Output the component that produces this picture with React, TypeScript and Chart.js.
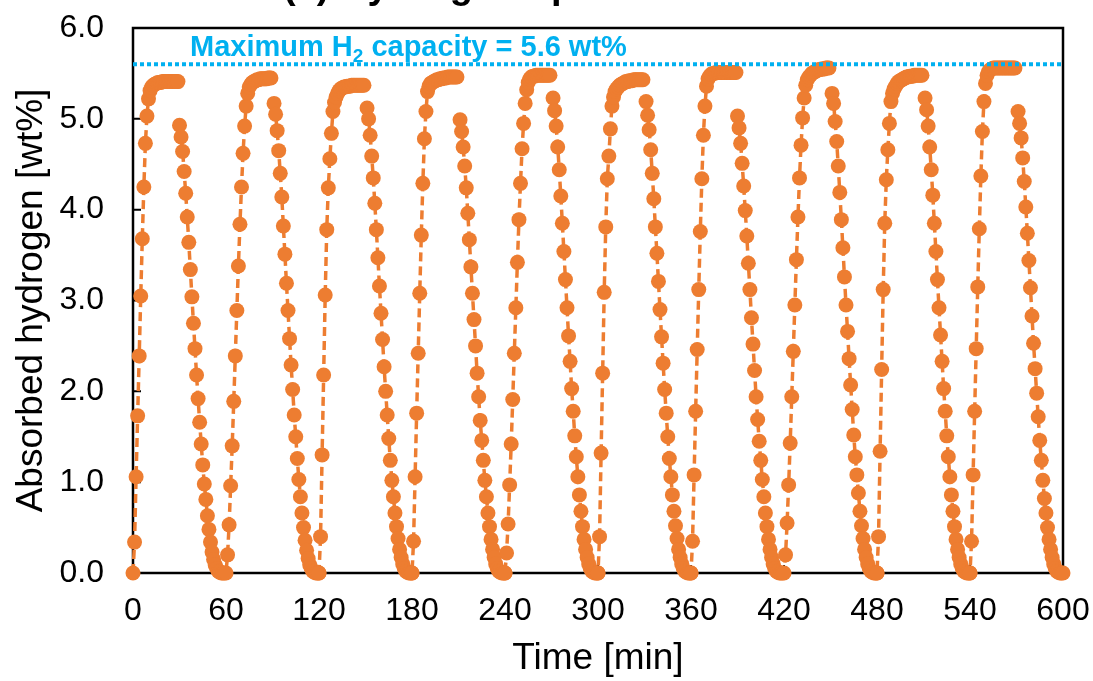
import React, { useEffect, useRef } from "react";
import { Chart, registerables } from "chart.js";

Chart.register(...registerables);

const ORANGE = "#ED7D31";
const CYAN = "#00B0F0";
const FONT = "'Liberation Sans', Arial, Helvetica, sans-serif";

// Sampling interval of the logged data (minutes)
const SAMPLE_STEP_MIN = 1;

// Axis ticks
const X_TICKS = [0, 60, 120, 180, 240, 300, 360, 420, 480, 540, 600];
const Y_TICKS = [0, 1, 2, 3, 4, 5, 6];

// Theoretical maximum hydrogen capacity (wt%)
const MAX_CAPACITY = 5.6;

// Start time (min) of the uptake and release step of each cycle
const uptakeStart = [0, 60, 120, 180, 240, 300, 360, 420, 480, 540];
const releaseStart = [30, 91, 151, 211, 271, 331, 390, 451, 511, 571];

// Absorbed hydrogen (wt%) during the uptake step of each cycle
const uptake1 = [0, 0.34, 1.06, 1.73, 2.39, 3.05, 3.68, 4.25, 4.73, 5.03, 5.22, 5.31, 5.35, 5.37, 5.38, 5.39, 5.4, 5.4, 5.4, 5.41, 5.41, 5.41, 5.41, 5.41, 5.41, 5.41, 5.41, 5.41, 5.41, 5.41];
const uptake2 = [0, 0.2, 0.53, 0.96, 1.4, 1.89, 2.39, 2.89, 3.38, 3.84, 4.25, 4.62, 4.92, 5.14, 5.28, 5.35, 5.38, 5.4, 5.41, 5.42, 5.43, 5.43, 5.44, 5.44, 5.44, 5.44, 5.44, 5.45, 5.45, 5.45];
const uptake3 = [0, 0.4, 1.3, 2.18, 3.06, 3.78, 4.24, 4.56, 4.84, 5.08, 5.18, 5.24, 5.28, 5.31, 5.33, 5.34, 5.35, 5.35, 5.36, 5.36, 5.36, 5.37, 5.37, 5.37, 5.37, 5.37, 5.37, 5.37, 5.37, 5.37];
const uptake4 = [0, 0.35, 1.06, 1.76, 2.42, 3.08, 3.72, 4.29, 4.78, 5.08, 5.3, 5.36, 5.39, 5.4, 5.41, 5.42, 5.43, 5.43, 5.44, 5.44, 5.45, 5.45, 5.45, 5.46, 5.46, 5.46, 5.46, 5.46, 5.46, 5.46];
const uptake5 = [0, 0.22, 0.54, 0.97, 1.42, 1.91, 2.42, 2.92, 3.42, 3.89, 4.29, 4.67, 4.95, 5.17, 5.32, 5.4, 5.44, 5.46, 5.47, 5.47, 5.48, 5.48, 5.48, 5.48, 5.48, 5.48, 5.48, 5.48, 5.48, 5.48];
const uptake6 = [0, 0.4, 1.32, 2.2, 3.09, 3.81, 4.34, 4.59, 4.89, 5.14, 5.24, 5.3, 5.33, 5.35, 5.37, 5.38, 5.39, 5.4, 5.41, 5.41, 5.42, 5.42, 5.42, 5.43, 5.43, 5.43, 5.43, 5.43, 5.43, 5.43];
const uptake7 = [0, 0.35, 1.08, 1.78, 2.46, 3.12, 3.76, 4.34, 4.82, 5.14, 5.36, 5.44, 5.47, 5.49, 5.5, 5.5, 5.51, 5.51, 5.51, 5.51, 5.51, 5.51, 5.51, 5.51, 5.51, 5.51, 5.51, 5.51, 5.51, 5.51];
const uptake8 = [0, 0.2, 0.55, 0.97, 1.43, 1.94, 2.44, 2.95, 3.45, 3.92, 4.35, 4.71, 5.01, 5.23, 5.37, 5.43, 5.46, 5.48, 5.5, 5.51, 5.52, 5.53, 5.54, 5.54, 5.55, 5.55, 5.55, 5.56, 5.56, 5.56];
const uptake9 = [0, 0.4, 1.34, 2.24, 3.12, 3.85, 4.33, 4.66, 4.95, 5.19, 5.28, 5.33, 5.36, 5.39, 5.41, 5.42, 5.43, 5.44, 5.45, 5.46, 5.46, 5.47, 5.47, 5.47, 5.48, 5.48, 5.48, 5.48, 5.48, 5.48];
const uptake10 = [0, 0.35, 1.08, 1.78, 2.47, 3.15, 3.79, 4.37, 4.86, 5.19, 5.39, 5.48, 5.52, 5.54, 5.55, 5.56, 5.56, 5.56, 5.56, 5.56, 5.56, 5.56, 5.56, 5.56, 5.56, 5.56, 5.56, 5.56, 5.56, 5.56];

// Hydrogen remaining (wt%) during the release step of each cycle
const release1 = [4.93, 4.8, 4.64, 4.42, 4.18, 3.92, 3.64, 3.34, 3.04, 2.75, 2.47, 2.18, 1.92, 1.66, 1.42, 1.19, 0.98, 0.81, 0.63, 0.48, 0.34, 0.23, 0.15, 0.09, 0.05, 0.02, 0.01, 0, 0, 0];
const release2 = [5.17, 5.05, 4.87, 4.65, 4.4, 4.14, 3.82, 3.51, 3.19, 2.89, 2.58, 2.29, 2.02, 1.74, 1.5, 1.26, 1.03, 0.84, 0.66, 0.5, 0.36, 0.25, 0.16, 0.09, 0.05, 0.02, 0.01, 0, 0, 0];
const release3 = [5.12, 5.0, 4.82, 4.59, 4.35, 4.07, 3.78, 3.47, 3.16, 2.86, 2.57, 2.27, 2.0, 1.74, 1.48, 1.24, 1.02, 0.84, 0.66, 0.51, 0.38, 0.26, 0.17, 0.1, 0.05, 0.02, 0.01, 0, 0, 0];
const release4 = [4.99, 4.86, 4.69, 4.48, 4.24, 3.96, 3.67, 3.37, 3.08, 2.79, 2.5, 2.2, 1.94, 1.68, 1.46, 1.24, 1.02, 0.84, 0.66, 0.51, 0.37, 0.26, 0.17, 0.1, 0.05, 0.02, 0.01, 0, 0, 0];
const release5 = [5.23, 5.09, 4.92, 4.69, 4.44, 4.15, 3.85, 3.54, 3.23, 2.92, 2.61, 2.33, 2.03, 1.78, 1.51, 1.28, 1.06, 0.86, 0.68, 0.51, 0.37, 0.26, 0.17, 0.1, 0.05, 0.02, 0.01, 0, 0, 0];
const release6 = [5.19, 5.04, 4.88, 4.66, 4.4, 4.12, 3.81, 3.52, 3.21, 2.9, 2.6, 2.31, 2.02, 1.76, 1.5, 1.26, 1.06, 0.86, 0.68, 0.52, 0.38, 0.26, 0.17, 0.1, 0.05, 0.02, 0.01, 0, 0, 0];
const release7 = [5.03, 4.9, 4.73, 4.51, 4.26, 3.99, 3.71, 3.41, 3.12, 2.81, 2.52, 2.23, 1.94, 1.69, 1.45, 1.24, 1.03, 0.84, 0.66, 0.51, 0.37, 0.26, 0.17, 0.1, 0.05, 0.02, 0.01, 0, 0, 0];
const release8 = [5.28, 5.17, 4.97, 4.75, 4.48, 4.19, 3.89, 3.58, 3.26, 2.95, 2.66, 2.36, 2.07, 1.8, 1.52, 1.28, 1.08, 0.88, 0.68, 0.52, 0.38, 0.26, 0.17, 0.1, 0.05, 0.02, 0.01, 0, 0, 0];
const release9 = [5.23, 5.1, 4.92, 4.69, 4.44, 4.16, 3.85, 3.54, 3.23, 2.92, 2.62, 2.33, 2.03, 1.78, 1.51, 1.28, 1.06, 0.86, 0.68, 0.51, 0.37, 0.26, 0.17, 0.1, 0.05, 0.02, 0.01, 0, 0, 0];
const release10 = [5.08, 4.95, 4.79, 4.57, 4.31, 4.03, 3.74, 3.44, 3.14, 2.83, 2.53, 2.25, 1.98, 1.72, 1.46, 1.24, 1.02, 0.82, 0.66, 0.5, 0.37, 0.26, 0.17, 0.1, 0.05, 0.02, 0.01, 0, 0, 0];

const uptakeRuns = [uptake1, uptake2, uptake3, uptake4, uptake5, uptake6, uptake7, uptake8, uptake9, uptake10];
const releaseRuns = [release1, release2, release3, release4, release5, release6, release7, release8, release9, release10];

type Pt = { x: number; y: number | null };

// One continuous series; a null point separates uptake from release so the
// dashed line breaks between the plateau and the start of release.
function buildSeries(): Pt[] {
  const pts: Pt[] = [];
  uptakeRuns.forEach((run, c) => {
    run.forEach((v, i) => pts.push({ x: uptakeStart[c] + i * SAMPLE_STEP_MIN, y: v }));
    pts.push({ x: uptakeStart[c] + run.length * SAMPLE_STEP_MIN, y: null });
    releaseRuns[c].forEach((v, i) => pts.push({ x: releaseStart[c] + i * SAMPLE_STEP_MIN, y: v }));
  });
  return pts;
}

// Frame, inward tick marks, heading and capacity caption
const decorations = {
  id: "decorations",
  beforeDatasetsDraw(chart: any) {
    const { ctx, chartArea, scales } = chart;
    const { left, right, top, bottom } = chartArea;
    ctx.save();
    ctx.strokeStyle = "#000";
    ctx.lineWidth = 2.5;
    ctx.strokeRect(left, top, right - left, bottom - top);
    ctx.lineWidth = 2;
    ctx.beginPath();
    Y_TICKS.forEach((v) => {
      const py = scales.y.getPixelForValue(v);
      ctx.moveTo(left, py);
      ctx.lineTo(left + 8, py);
    });
    X_TICKS.forEach((v) => {
      const px = scales.x.getPixelForValue(v);
      ctx.moveTo(px, bottom);
      ctx.lineTo(px, bottom - 8);
    });
    ctx.stroke();
    ctx.restore();
  },
  afterDraw(chart: any) {
    const { ctx, chartArea, scales } = chart;
    ctx.save();
    // Heading, mostly above the top edge of the canvas
    ctx.fillStyle = "#000";
    ctx.textAlign = "left";
    ctx.textBaseline = "alphabetic";
    ctx.font = `bold 38px ${FONT}`;
    ctx.fillText("(a) Hydrogen uptake", 283, -2);

    // Caption above the capacity line, with subscript "2"
    const lineY = scales.y.getPixelForValue(MAX_CAPACITY);
    const base = lineY - 8;
    let x = chartArea.left + 57;
    ctx.fillStyle = CYAN;
    const mainFont = `bold 29px ${FONT}`;
    const subFont = `bold 19px ${FONT}`;
    const a = "Maximum H";
    const b = "2";
    const c = ` capacity = ${MAX_CAPACITY.toFixed(1)} wt%`;
    ctx.font = mainFont;
    ctx.fillText(a, x, base);
    x += ctx.measureText(a).width;
    ctx.font = subFont;
    ctx.fillText(b, x, base + 6);
    x += ctx.measureText(b).width;
    ctx.font = mainFont;
    ctx.fillText(c, x, base);
    ctx.restore();
  },
};

export default function App() {
  const canvasRef = useRef<HTMLCanvasElement | null>(null);

  useEffect(() => {
    const canvas = canvasRef.current;
    if (!canvas) return;
    const series = buildSeries();

    const chart = new Chart(canvas, {
      type: "line",
      data: {
        datasets: [
          {
            label: "Capacity",
            data: [
              { x: X_TICKS[0], y: MAX_CAPACITY },
              { x: X_TICKS[X_TICKS.length - 1], y: MAX_CAPACITY },
            ],
            borderColor: CYAN,
            borderWidth: 4,
            borderDash: [4, 3],
            pointRadius: 0,
            fill: false,
            order: 0,
          },
          {
            label: "Absorbed hydrogen",
            data: series as any,
            borderColor: ORANGE,
            backgroundColor: ORANGE,
            borderWidth: 3.5,
            borderDash: [9, 5],
            pointRadius: 7.5,
            pointBorderWidth: 0,
            pointBackgroundColor: ORANGE,
            spanGaps: false,
            tension: 0,
            clip: false as any,
            order: 1,
          },
        ],
      },
      options: {
        responsive: false,
        animation: false,
        devicePixelRatio: 1,
        events: [],
        layout: { padding: { left: 0, right: 30, top: 28, bottom: 0 } },
        plugins: {
          legend: { display: false },
          tooltip: { enabled: false },
          title: { display: false },
        },
        scales: {
          x: {
            type: "linear",
            min: X_TICKS[0],
            max: X_TICKS[X_TICKS.length - 1],
            afterBuildTicks: (s: any) => {
              s.ticks = X_TICKS.map((v) => ({ value: v }));
            },
            grid: { display: false, drawTicks: false },
            border: { display: false },
            ticks: {
              color: "#000",
              font: { family: FONT, size: 32 },
              padding: 19,
              maxRotation: 0,
              autoSkip: false,
            },
            title: {
              display: true,
              text: "Time [min]",
              color: "#000",
              font: { family: FONT, size: 37 },
              padding: { top: 0, bottom: 0 },
            },
            afterFit: (s: any) => {
              s.height = 108;
              s.paddingLeft = 0;
              s.paddingRight = 0;
              s.paddingTop = 0;
              s.paddingBottom = 0;
            },
          },
          y: {
            type: "linear",
            min: Y_TICKS[0],
            max: Y_TICKS[Y_TICKS.length - 1],
            afterBuildTicks: (s: any) => {
              s.ticks = Y_TICKS.map((v) => ({ value: v }));
            },
            grid: { display: false, drawTicks: false },
            border: { display: false },
            ticks: {
              color: "#000",
              font: { family: FONT, size: 32 },
              padding: 29,
              callback: (v: any) => Number(v).toFixed(1),
            },
            title: {
              display: true,
              text: "Absorbed hydrogen [wt%]",
              color: "#000",
              font: { family: FONT, size: 37 },
              padding: { top: 10, bottom: 0 },
            },
            afterFit: (s: any) => {
              s.width = 133;
              s.paddingLeft = 0;
              s.paddingRight = 0;
              s.paddingTop = 0;
              s.paddingBottom = 0;
            },
          },
        },
      },
      plugins: [decorations],
    });

    return () => chart.destroy();
  }, []);

  return (
    <div style={{ position: "absolute", left: 0, top: 0, width: 1093, height: 681, background: "#fff" }}>
      <canvas ref={canvasRef} width={1093} height={681} style={{ display: "block" }} />
    </div>
  );
}
